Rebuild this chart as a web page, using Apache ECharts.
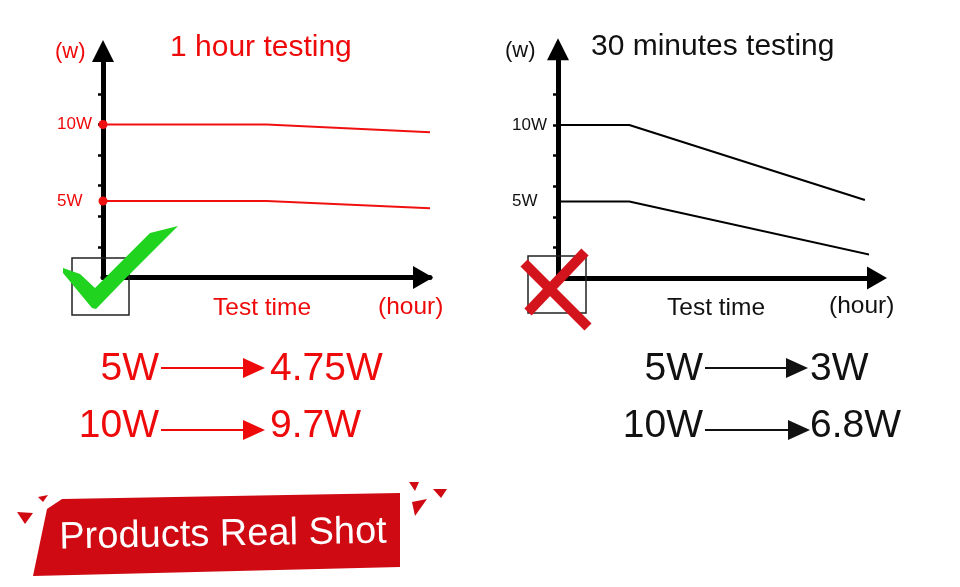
<!DOCTYPE html>
<html><head><meta charset="utf-8">
<script src="https://cdn.jsdelivr.net/npm/echarts@6/dist/echarts.min.js"></script>
<style>html,body{margin:0;padding:0;background:#fff}#c{width:960px;height:587px}</style>
</head><body><div id="c"></div>
<script>
// ---- data ----
const leftTime   = [0, 0.5, 1];
const left10W    = [10, 10, 9.49];
const left5W     = [5, 5, 4.52];
const right10Time = [0, 0.23, 0.99];
const right10W    = [10, 10, 5.1];
const right5Time  = [0, 0.23, 1.01];
const right5W     = [5, 5, 1.5];
const yLabelValues = [5, 10];
const yTickValues  = [2, 4, 6, 8, 10, 12];
const leftTitle = '1 hour testing';
const rightTitle = '30 minutes testing';
const leftSummary  = [['5W', '4.75W'], ['10W', '9.7W']];
const rightSummary = [['5W', '3W'], ['10W', '6.8W']];
const bannerText = 'Products Real Shot';

const FONT = 'Liberation Sans, Arial, sans-serif';
const RED = '#ee0a0a';
const BLACK = '#111111';
const pair = (xs, ys) => xs.map((x, i) => [x, ys[i]]);

function yAxisFor(grid, color, offEnd) {
  return {
    type: 'value', gridIndex: grid, min: 0, max: 14.5, position: 'left',
    axisLine: { show: true, symbol: ['none', 'triangle'], symbolSize: [22, 22], symbolOffset: [0, offEnd],
      lineStyle: { color: '#000', width: 5 } },
    axisTick: { show: true, customValues: yTickValues, length: 5, inside: false, lineStyle: { color: '#000', width: 2.5 } },
    axisLabel: { show: true, customValues: yLabelValues, formatter: v => v + 'W', align: 'left', margin: 46,
      color: color, fontSize: 17, fontFamily: FONT },
    splitLine: { show: false }
  };
}
function xAxisFor(grid, offEnd) {
  return {
    type: 'value', gridIndex: grid, min: 0, max: 1,
    axisLine: { show: true, onZero: false, symbol: ['none', 'triangle'], symbolSize: [23, 20], symbolOffset: [0, offEnd],
      lineStyle: { color: '#000', width: 5 } },
    axisTick: { show: false }, axisLabel: { show: false }, splitLine: { show: false }
  };
}

const graphics = [];
function txt(text, x, y, size, color, align, extra) {
  graphics.push(Object.assign({ type: 'text', z: 50, x: x, y: y,
    style: { text: text, fontSize: size, fontFamily: FONT, fill: color, align: align || 'left', verticalAlign: 'middle' } }, extra || {}));
}
function poly(points, color, z) {
  graphics.push({ type: 'polygon', z: z || 60, shape: { points: points }, style: { fill: color } });
}
function arrow(x1, x2, y, color) {
  graphics.push({ type: 'line', z: 50, shape: { x1: x1, y1: y, x2: x2 - 20, y2: y }, style: { stroke: color, lineWidth: 2 } });
  poly([[x2 - 22, y - 10], [x2, y], [x2 - 22, y + 10]], color, 50);
}

// titles and axis names
txt(leftTitle, 170, 48, 30, RED);
txt(rightTitle, 591, 47, 30, BLACK);
txt('(w)', 55, 52, 22, RED);
txt('(w)', 505, 51, 22, BLACK);
txt('Test time', 213, 308, 24.5, RED);
txt('(hour)', 378, 307, 24.5, RED);
txt('Test time', 667, 308, 24.5, BLACK);
txt('(hour)', 829, 306, 24.5, BLACK);

// summaries
const rowsY = [369, 426], arrowsY = [368, 430];
leftSummary.forEach((r, i) => {
  txt(r[0], 159, rowsY[i], 39, RED, 'right');
  arrow(161, 265, arrowsY[i], RED);
  txt(r[1], 270, rowsY[i], 39, RED, 'left');
});
rightSummary.forEach((r, i) => {
  txt(r[0], 703, rowsY[i], 39, BLACK, 'right');
  arrow(705, 808 + i * 2, arrowsY[i], BLACK);
  txt(r[1], 810, rowsY[i], 39, BLACK, 'left');
});

// boxes
graphics.push({ type: 'rect', z: 40, shape: { x: 72, y: 258, width: 57, height: 57 }, style: { fill: 'none', stroke: '#222', lineWidth: 1.5 } });
graphics.push({ type: 'rect', z: 40, shape: { x: 528, y: 256, width: 58, height: 57 }, style: { fill: 'none', stroke: '#222', lineWidth: 1.5 } });
// check mark
poly([[63, 268], [80, 274], [95, 288], [150, 233], [178, 226], [127, 277], [96, 309], [92, 308], [63, 273]], '#1fd31f', 70);
// cross
graphics.push({ type: 'line', z: 70, shape: { x1: 524, y1: 263, x2: 588, y2: 327 }, style: { stroke: '#d4141c', lineWidth: 10 } });
graphics.push({ type: 'line', z: 70, shape: { x1: 585, y1: 252, x2: 528, y2: 312 }, style: { stroke: '#d4141c', lineWidth: 10 } });

// banner
const BANNER = '#cf0a12';
poly([[47, 509], [62, 499], [400, 493], [400, 567], [33, 576]], BANNER, 30);
poly([[17, 512], [33, 513], [25, 524]], BANNER, 30);
poly([[38, 497], [48, 495], [43, 502]], BANNER, 30);
poly([[409, 482], [419, 482], [415, 491]], BANNER, 30);
poly([[433, 489], [447, 489], [441, 498]], BANNER, 30);
poly([[412, 502], [427, 499], [415, 516]], BANNER, 30);
txt(bannerText, 223, 535, 38, '#ffffff', 'center', { rotation: 0.018 });

const chart = echarts.init(document.getElementById('c'));
chart.setOption({
  animation: false,
  backgroundColor: '#ffffff',
  grid: [
    { left: 103, top: 277.5 - 14.5 * 15.3, width: 327, height: 14.5 * 15.3, outerBoundsMode: 'none' },
    { left: 558, top: 278 - 14.5 * 15.3, width: 310, height: 14.5 * 15.3, outerBoundsMode: 'none' }
  ],
  xAxis: [xAxisFor(0, -7), xAxisFor(1, 9)],
  yAxis: [yAxisFor(0, RED, 4.6), yAxisFor(1, BLACK, 7)],
  series: [
    { type: 'line', xAxisIndex: 0, yAxisIndex: 0, data: pair(leftTime, left10W), clip: false,
      symbol: (v, p) => p.dataIndex === 0 ? 'circle' : 'none', symbolSize: 9, showSymbol: true,
      itemStyle: { color: '#f01010' }, lineStyle: { color: '#f01010', width: 2 }, z: 5 },
    { type: 'line', xAxisIndex: 0, yAxisIndex: 0, data: pair(leftTime, left5W), clip: false,
      symbol: (v, p) => p.dataIndex === 0 ? 'circle' : 'none', symbolSize: 9, showSymbol: true,
      itemStyle: { color: '#f01010' }, lineStyle: { color: '#f01010', width: 2 }, z: 5 },
    { type: 'line', xAxisIndex: 1, yAxisIndex: 1, data: pair(right10Time, right10W), clip: false,
      symbol: 'none', lineStyle: { color: '#000', width: 2 } },
    { type: 'line', xAxisIndex: 1, yAxisIndex: 1, data: pair(right5Time, right5W), clip: false,
      symbol: 'none', lineStyle: { color: '#000', width: 2 } }
  ],
  graphic: { elements: graphics }
});
</script></body></html>
